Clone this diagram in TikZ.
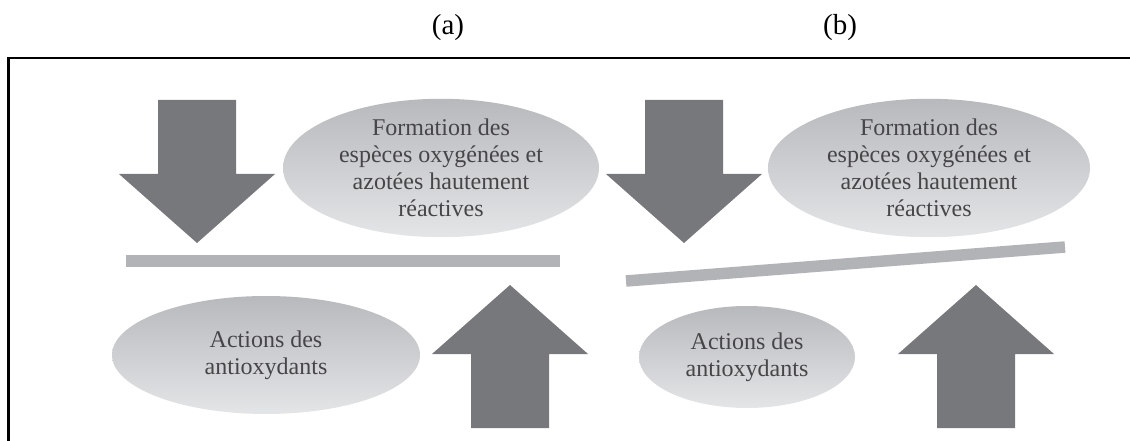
\documentclass[tikz,border=0pt]{standalone}
\usepackage{fontspec}
\setmainfont{Liberation Serif}
\usetikzlibrary{shapes.geometric}

\definecolor{arrowgray}{RGB}{119,120,123}
\definecolor{bargray}{RGB}{178,179,182}
\definecolor{ovaltop}{RGB}{184,185,188}
\definecolor{ovalbottom}{RGB}{228,229,231}
\definecolor{labelgray}{RGB}{70,70,72}

\tikzset{
  oval/.style={ellipse, inner sep=0pt, draw=none, top color=ovaltop, bottom color=ovalbottom,
    align=center, text=labelgray, font=\fontsize{24}{27}\selectfont},
  panellabel/.style={font=\fontsize{29}{32}\selectfont},
  bar/.style={bargray, line width=11.5pt},
  % block arrow pointing down, origin at its tip
  bigarrow/.pic={\fill[arrowgray] (0,0) -- (78,-69) -- (39,-69) -- (39,-143)
    -- (-39,-143) -- (-39,-69) -- (-78,-69) -- cycle;}
}

\begin{document}
\begin{tikzpicture}[x=1pt, y=-1pt]
  \clip (0,0) rectangle (1130,441);
  \useasboundingbox (0,0) rectangle (1130,441);

  % frame (open at right and bottom)
  \draw[line width=2.5pt] (8.5,470) -- (8.5,58) -- (1160,58);

  \node (labela) [panellabel] at (448,28) {(a)};
  \node (labelb) [panellabel] at (840,28) {(b)};

  % panel (a)
  \pic (downa) at (197,243) {bigarrow};
  \node (formationa) [oval, minimum width=316pt, minimum height=126pt] at (441,168)
    {Formation des\\esp\`eces oxyg\'en\'ees et\\azot\'ees hautement\\r\'eactives};
  \coordinate (barLa) at (126,261);
  \coordinate (barRa) at (560,261);
  \draw[bar] (barLa) -- (barRa);
  \node (actionsa) [oval, minimum width=308pt, minimum height=118pt] at (266,355)
    {Actions des\\antioxydants};
  \pic[rotate=180] (upa) at (510,285) {bigarrow};

  % panel (b)
  \pic (downb) at (684,243) {bigarrow};
  \node (formationb) [oval, minimum width=322pt, minimum height=126pt] at (929,168)
    {Formation des\\esp\`eces oxyg\'en\'ees et\\azot\'ees hautement\\r\'eactives};
  \coordinate (barLb) at (626,281);
  \coordinate (barRb) at (1065,247);
  \draw[bar] (barLb) -- (barRb);
  \node (actionsb) [oval, minimum width=216pt, minimum height=102pt] at (747,357)
    {Actions des\\antioxydants};
  \pic[rotate=180] (upb) at (976,285) {bigarrow};
\end{tikzpicture}
\end{document}
